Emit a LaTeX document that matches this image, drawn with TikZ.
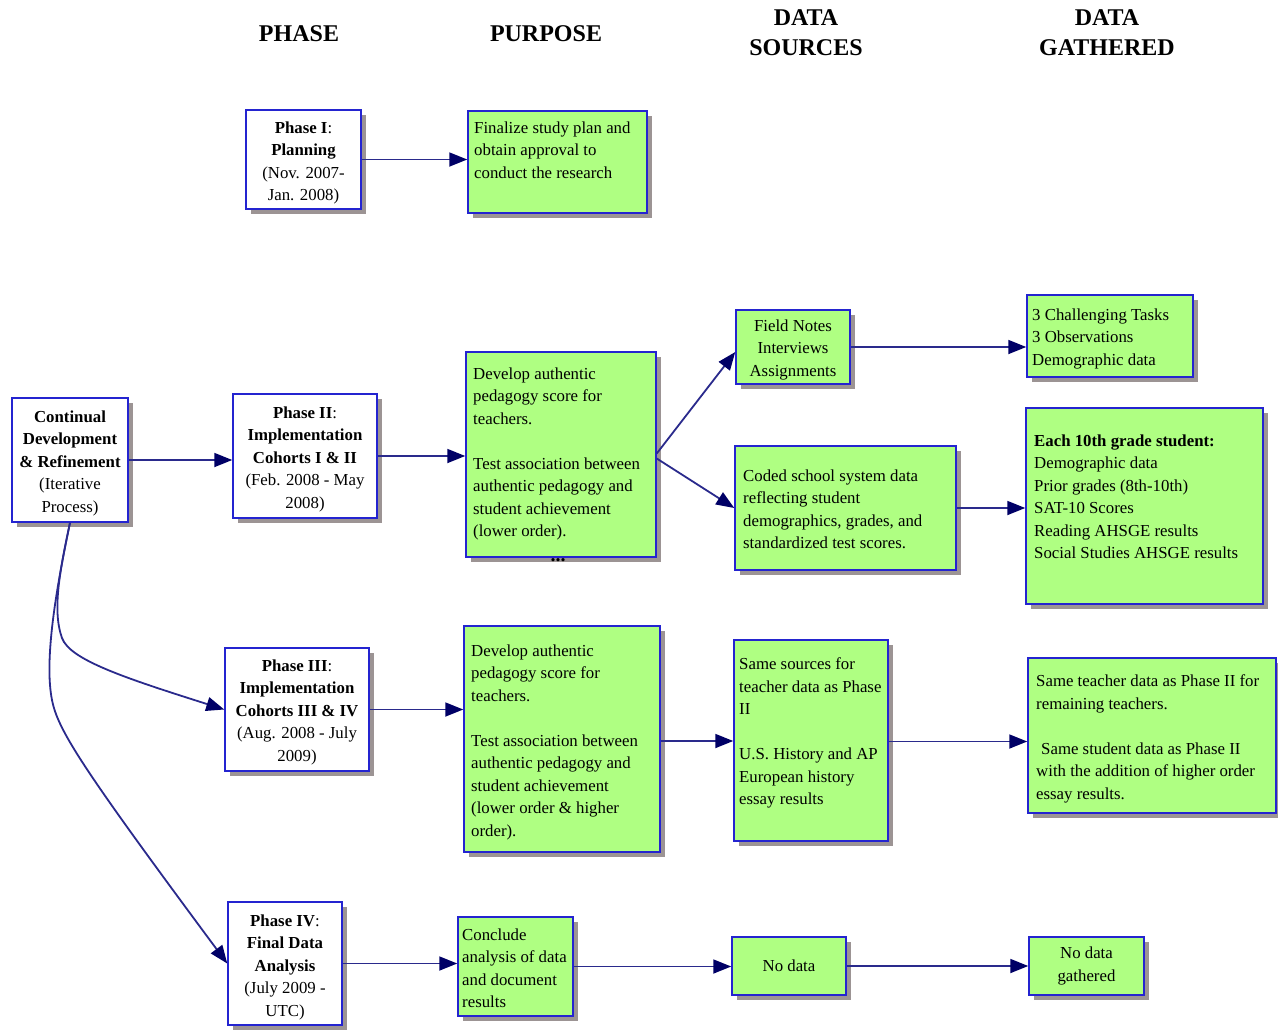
\documentclass[tikz,border=0pt]{standalone}
\usepackage{fontspec}
\setmainfont{Liberation Serif}
\usetikzlibrary{arrows.meta,shadows}
\definecolor{boxblue}{HTML}{2424D0}
\definecolor{gfill}{HTML}{AFFF82}
\definecolor{shgray}{HTML}{9C9494}
\definecolor{arrline}{HTML}{2A2A8C}
\definecolor{arrhead}{HTML}{000066}
\begin{document}
\begin{tikzpicture}[x=1pt,y=-1pt,
 box/.style={draw=boxblue,line width=1.5pt,inner sep=0pt,
   drop shadow={shadow xshift=5pt,shadow yshift=-5pt,fill=shgray,opacity=1}},
 wbox/.style={box,fill=white},
 gbox/.style={box,fill=gfill},
 txt/.style={font=\fontsize{16.8}{22.5}\selectfont,inner sep=0pt},
 ctxt/.style={txt,align=center,anchor=north,yshift=-1.5pt},
 ltxt/.style={txt,align=left,anchor=north west,yshift=-1.5pt},
 head/.style={font=\fontsize{24}{30}\selectfont\bfseries,align=center,inner sep=0pt},
 arr/.style={draw=arrline,line width=1.8pt,-{Triangle[length=18pt,width=14pt,color=arrhead]}},
]
\useasboundingbox (0,0) rectangle (1278,1029);

% headers
\node[head] (hph) at (299,34) {PHASE};
\node[head] (hpu) at (546,34) {PURPOSE};
\node[head] (hds) at (806,33) {DATA\\SOURCES};
\node[head] (hdg) at (1107,33) {DATA\\GATHERED};

% boxes
\node[wbox,minimum width=115pt,minimum height=99pt] (p1) at (303.5,159.5) {};
\node[gbox,minimum width=179pt,minimum height=102pt] (u1) at (557.5,162) {};
\node[wbox,minimum width=116pt,minimum height=124pt] (cont) at (70,460) {};
\node[wbox,minimum width=144pt,minimum height=124pt] (p2) at (305,456) {};
\node[gbox,minimum width=190pt,minimum height=205pt] (u2) at (561,454.5) {};
\node[gbox,minimum width=114pt,minimum height=74pt] (fn) at (793,347) {};
\node[gbox,minimum width=221pt,minimum height=124pt] (cd) at (845.5,508) {};
\node[gbox,minimum width=166pt,minimum height=82pt] (c3) at (1110,336) {};
\node[gbox,minimum width=237pt,minimum height=196pt] (e10) at (1144.5,506) {};
\node[wbox,minimum width=144pt,minimum height=123pt] (p3) at (297,709.5) {};
\node[gbox,minimum width=196pt,minimum height=226pt] (u3) at (562,739) {};
\node[gbox,minimum width=154pt,minimum height=201pt] (ss) at (811,740.5) {};
\node[gbox,minimum width=248pt,minimum height=155pt] (st) at (1152,735.5) {};
\node[wbox,minimum width=114pt,minimum height=123pt] (p4) at (285,963.5) {};
\node[gbox,minimum width=115pt,minimum height=99pt] (cc) at (515.5,966.5) {};
\node[gbox,minimum width=114pt,minimum height=58pt,txt,align=center] (nd) at (789,966) {No data};
\node[gbox,minimum width=115pt,minimum height=58pt,txt,align=center] (ndg) at (1086.5,966) {No data\\gathered};

% texts
\node[ctxt] (p1t) at (303.5,120) {\textbf{Phase I}:\\\textbf{Planning}\\(Nov. 2007-\\Jan. 2008)};
\node[ltxt] (u1t) at (474,120) {Finalize study plan and\\obtain approval to\\conduct the research};
\node[ctxt] (contt) at (70,409) {\textbf{Continual}\\\textbf{Development}\\\textbf{\& Refinement}\\(Iterative\\Process)};
\node[ctxt] (p2t) at (305,405) {\textbf{Phase II}:\\\textbf{Implementation}\\\textbf{Cohorts I \& II}\\(Feb. 2008 - May\\2008)};
\node[ltxt] (u2t) at (473,366) {Develop authentic\\pedagogy score for\\teachers.\\[22.5pt]Test association between\\authentic pedagogy and\\student achievement\\(lower order).};
\node[font=\fontsize{20}{20}\selectfont\bfseries,inner sep=0pt] (dots) at (558,560) {...};
\node[ctxt] (fnt) at (793,318) {Field Notes\\Interviews\\Assignments};
\node[ltxt] (cdt) at (743,468) {Coded school system data\\reflecting student\\demographics, grades, and\\standardized test scores.};
\node[ltxt] (c3t) at (1032,307) {3 Challenging Tasks\\3 Observations\\Demographic data};
\node[ltxt] (e10t) at (1034,433) {\textbf{Each 10th grade student:}\\Demographic data\\Prior grades (8th-10th)\\SAT-10 Scores\\Reading AHSGE results\\Social Studies AHSGE results};
\node[ctxt] (p3t) at (297,658) {\textbf{Phase III}:\\\textbf{Implementation}\\\textbf{Cohorts III \& IV}\\(Aug. 2008 - July\\2009)};
\node[ltxt] (u3t) at (471,643) {Develop authentic\\pedagogy score for\\teachers.\\[22.5pt]Test association between\\authentic pedagogy and\\student achievement\\(lower order \& higher\\order).};
\node[ltxt] (sst) at (739,656) {Same sources for\\teacher data as Phase\\II\\[22.5pt]U.S. History and AP\\European history\\essay results};
\node[ltxt] (stt) at (1036,673) {Same teacher data as Phase II for\\remaining teachers.\\[22.5pt]\hspace*{5pt}Same student data as Phase II\\with the addition of higher order\\essay results.};
\node[ctxt] (p4t) at (285,913) {\textbf{Phase IV}:\\\textbf{Final Data}\\\textbf{Analysis}\\(July 2009 -\\UTC)};
\node[ltxt] (cct) at (462,927) {Conclude\\analysis of data\\and document\\results};

% connectors
\draw[arr] (p1.east) -- (p1.east -| u1.west);
\draw[arr] (cont.east) -- (cont.east -| p2.west);
\draw[arr] (p2.east) -- (p2.east -| u2.west);
\draw[arr] ([yshift=1pt]u2.east) -- ([yshift=-5pt]fn.west);
\draw[arr] ([yshift=-4pt]u2.east) -- (cd.west);
\draw[arr] (fn.east) -- (fn.east -| c3.west);
\draw[arr] (cd.east) -- (cd.east -| e10.west);
\draw[arr] (p3.east) -- (p3.east -| u3.west);
\draw[arr] ([yshift=-2pt]u3.east) -- ([yshift=-2pt]u3.east -| ss.west);
\draw[arr] ([yshift=-1pt]ss.east) -- ([yshift=-1pt]ss.east -| st.west);
\draw[arr] (p4.east) -- (p4.east -| cc.west);
\draw[arr] (cc.east) -- (cc.east -| nd.west);
\draw[arr] (nd.east) -- (nd.east -| ndg.west);
\draw[arr] (cont.south) .. controls (60,570) and (52,610) .. (62,638)
  .. controls (70,660) and (125,678) .. (p3.west);
\draw[arr] (cont.south) .. controls (56,590) and (44,660) .. (52,700)
  .. controls (58,730) and (80,765) .. (p4.west);
\end{tikzpicture}
\end{document}
